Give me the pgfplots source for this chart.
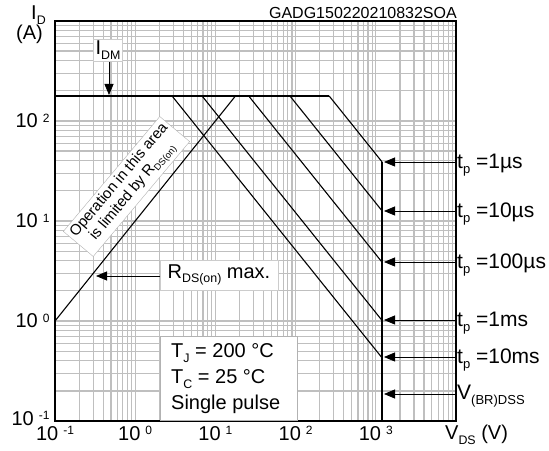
\documentclass[border=0pt]{standalone}
\usepackage{fontspec}
\setmainfont{Liberation Sans}
\usepackage{pgfplots}
\pgfplotsset{compat=1.18}
\usetikzlibrary{arrows.meta}

% 10^n tick label and small lowered index, as in the datasheet
\newcommand{\dec}[1]{\mbox{10\hspace{5pt}\raisebox{0.29em}{\scalebox{0.6}{#1}}}}
\newcommand{\sub}[1]{\raisebox{-0.22em}{\scalebox{0.62}{#1}}}

\begin{document}
\begin{tikzpicture}[font=\fontsize{20}{24}\selectfont,
    arr/.style={line width=0.8pt, -{Triangle[length=11pt,width=9pt]}}]
\path[use as bounding box] (-55pt,-29pt) rectangle (494pt,421pt);
\begin{axis}[
    at={(0,0)}, anchor=south west,
    scale only axis, width=401pt, height=400pt,
    xmode=log, ymode=log,
    xmin=0.1, xmax=10000, ymin=0.1, ymax=1000,
    xtick={0.1,1,10,100,1000},
    xticklabels={\dec{-1},\dec{0},\dec{1},\dec{2},\dec{3}},
    ytick={0.1,1,10,100},
    yticklabels={\raisebox{6pt}{\dec{-1}},\dec{0},\dec{1},\dec{2}},
    minor xtick={0.2,0.3,0.4,0.5,0.6,0.7,0.8,0.9,2,3,4,5,6,7,8,9,
                 20,30,40,50,60,70,80,90,200,300,400,500,600,700,800,900,
                 2000,3000,4000,5000,6000,7000,8000,9000},
    minor ytick={0.2,0.3,0.4,0.5,0.6,0.7,0.8,0.9,2,3,4,5,6,7,8,9,
                 20,30,40,50,60,70,80,90,200,300,400,500,600,700,800,900},
    grid=both,
    major grid style={gray!50, line width=1.2pt},
    minor grid style={gray!50, line width=1.2pt},
    major tick length=0pt, minor tick length=0pt,
    axis line style={line width=1.5pt},
    tick label style={font=\fontsize{20}{20}\selectfont},
    xticklabel style={yshift=-2pt},
    yticklabel style={xshift=-2pt},
]
% I_DM limit
\addplot[black, line width=2.6pt] coordinates {(0.1,178) (262,178)};
% R_DS(on) limit
\addplot[black, line width=1.1pt] coordinates {(0.1,1) (17.8,178)};
% pulse lines
\addplot[black, line width=1.1pt] coordinates {(262,178) (1200,38.9)};
\addplot[black, line width=1.1pt] coordinates {(85,178) (1200,12.6)};
\addplot[black, line width=1.1pt] coordinates {(26,178) (1200,3.86)};
\addplot[black, line width=1.1pt] coordinates {(6.81,178) (1200,1.01)};
\addplot[black, line width=1.1pt] coordinates {(2.88,178) (1200,0.427)};
% V(BR)DSS
\addplot[black, line width=2.2pt] coordinates {(1200,38.9) (1200,0.1)};
\end{axis}

% annotations, in pixel coordinates of the reference
\begin{scope}[x=1pt, y=-1pt, shift={(-55pt,421pt)}]
\node[anchor=base west, inner sep=0pt] at (31,20) {I\sub{D}};
\node[anchor=base west, inner sep=0pt] at (16,40) {(A)};
\node[anchor=base east, inner sep=0pt, font=\fontsize{16}{16}\selectfont] at (457,19) {GADG150220210832SOA};
\node[anchor=base west, inner sep=0pt] at (445,440) {V\sub{DS} (V)};

% I_DM
\node[fill=white, draw=gray!40, inner sep=2pt] at (108,50) {I\sub{DM}};
\draw[arr] (109,62) -- (109,95);

% R_DS(on) region
\node[fill=white, draw=gray!60, rotate=50, align=center, inner sep=1pt,
      minimum width=150pt, minimum height=39pt,
      font=\fontsize{15}{17}\selectfont] at (126.5,186.5)
      {Operation in this area\\is limited by R\sub{DS(on)}};
\node[fill=white, draw=gray!40, minimum width=118pt, minimum height=30pt, inner sep=1pt] at (219,275)
      {R\sub{DS(on)} max.};
\draw[arr] (160,276) -- (96,276);

% conditions
\draw[gray!60, fill=white] (160,336) rectangle (297,420);
\node[anchor=base west, inner sep=0pt] at (171,358) {T\sub{J} = 200 °C};
\node[anchor=base west, inner sep=0pt] at (171,384) {T\sub{C} = 25 °C};
\node[anchor=base west, inner sep=0pt] at (171,409) {Single pulse};

% right-hand labels
\foreach \yy/\lab in {162/{=1µs}, 211/{=10µs}, 262/{=100µs}, 320/{=1ms}, 357/{=10ms}} {
  \draw[arr] (456,\yy) -- (384,\yy);
  \node[anchor=base west, inner sep=0pt, font=\fontsize{21}{24}\selectfont] at (457,\yy+7) {t\sub{p} \lab};
}
\draw[arr] (456,394) -- (384,394);
\node[anchor=base west, inner sep=0pt, font=\fontsize{21}{24}\selectfont] at (457,400) {V\sub{(BR)DSS}};
\end{scope}
\end{tikzpicture}
\end{document}
